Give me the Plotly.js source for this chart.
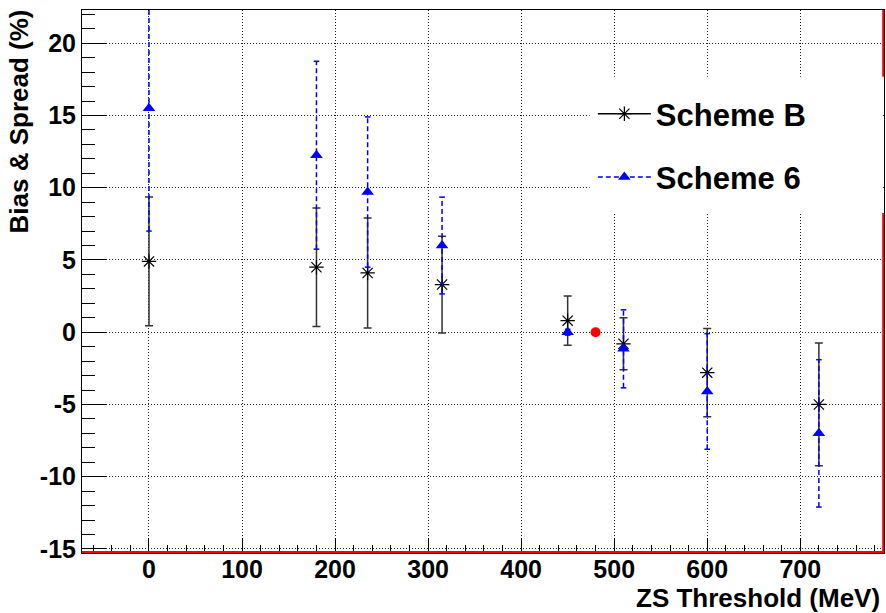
<!DOCTYPE html>
<html>
<head>
<meta charset="utf-8">
<script src="https://cdn.plot.ly/plotly-3.0.1.min.js"></script>
<style>html,body{margin:0;padding:0;background:#fff;}#chart{width:886px;height:613px;}</style>
</head>
<body>
<div id="chart"></div>
<script>
// ---- data ----
const thresholds = [0, 180, 235, 315, 450, 510, 600, 720];
const schemeB = [4.9, 4.5, 4.1, 3.3, 0.8, -0.8, -2.8, -5.0];
const schemeBErr = [4.45, 4.1, 3.8, 3.35, 1.7, 1.8, 3.05, 4.25];
const scheme6 = [15.5, 12.25, 9.7, 6.0, 0.0, -1.15, -4.1, -7.0];
const scheme6Err = [8.5, 6.5, 5.2, 3.35, 0.2, 2.7, 4.0, 5.1];
const refX = [480];
const refY = [0];
const xTickVals = [0, 100, 200, 300, 400, 500, 600, 700];
const xTickText = ['0', '100', '200', '300', '400', '500', '600', '700'];
const yTickVals = [-15, -10, -5, 0, 5, 10, 15, 20];
const yTickText = ['-15', '-10', '-5', '0', '5', '10', '15', '20'];
const seriesNames = ['Scheme B', 'Scheme 6'];

// interleave with nulls so single points carry a legend line but are not joined
function gapped(arr) { const o = []; arr.forEach(v => { o.push(v); o.push(null); }); return o; }

// dashed error segments for Scheme 6
const e6x = [], e6y = [];
thresholds.forEach((x, i) => {
  e6x.push(x, x, null);
  e6y.push(scheme6[i] - scheme6Err[i], scheme6[i] + scheme6Err[i], null);
});

const FONT = 'Liberation Sans, Arial, Helvetica, sans-serif';

const traces = [
  {
    x: gapped(thresholds), y: gapped(schemeB), name: seriesNames[0],
    type: 'scatter', mode: 'lines+markers', connectgaps: false,
    legendgroup: 'b',
    line: {color: '#000', width: 1.5},
    marker: {symbol: 'asterisk-open', size: 12, color: '#000', line: {color: '#000', width: 1.2}},
    error_y: {type: 'data', array: gapped(schemeBErr), visible: true, color: '#333', thickness: 1.5, width: 4}
  },
  {
    x: e6x, y: e6y, type: 'scatter', mode: 'lines+markers', showlegend: false,
    line: {color: '#0000ff', width: 1.5, dash: '5px,3px'},
    marker: {symbol: 'line-ew-open', size: 4, color: '#0000ff', line: {color: '#0000ff', width: 1.5}}
  },
  {
    x: gapped(thresholds), y: gapped(scheme6), name: seriesNames[1],
    type: 'scatter', mode: 'lines+markers', connectgaps: false,
    legendgroup: 's6',
    line: {color: '#0000ff', width: 1.5, dash: '5px,3px'},
    marker: {symbol: 'triangle-up', size: 11, color: '#0000ff'}
  },
  {
    x: refX, y: refY, type: 'scatter', mode: 'markers', showlegend: false,
    marker: {symbol: 'circle', size: 10, color: '#ff0000'}
  }
];

const axisFont = {family: FONT, size: 25, color: '#000', weight: 'bold'};

const layout = {
  width: 886, height: 613,
  margin: {l: 82, r: 2, t: 10, b: 60, pad: 0},
  paper_bgcolor: '#fff', plot_bgcolor: '#fff',
  showlegend: true,
  hovermode: false,
  xaxis: {
    range: [-72, 790], tickmode: 'array', tickvals: xTickVals, ticktext: xTickText,
    ticks: 'inside', ticklen: 15, tickwidth: 1, tickcolor: '#000',
    minor: {dtick: 20, tick0: 0, ticks: 'inside', ticklen: 8, tickcolor: '#000', tickwidth: 1, showgrid: false},
    showline: true, linecolor: '#000', linewidth: 1, mirror: true,
    showgrid: true, gridcolor: '#222', griddash: '1px,2px', gridwidth: 1,
    zeroline: false, tickfont: axisFont, ticklabelstandoff: -6
  },
  yaxis: {
    range: [-15.28, 22.3], tickmode: 'array', tickvals: yTickVals, ticktext: yTickText,
    ticks: 'inside', ticklen: 24, tickwidth: 1, tickcolor: '#000',
    minor: {dtick: 1, tick0: 0, ticks: 'inside', ticklen: 13, tickcolor: '#000', tickwidth: 1, showgrid: false},
    showline: true, linecolor: '#000', linewidth: 1, mirror: true,
    showgrid: true, gridcolor: '#222', griddash: '1px,2px', gridwidth: 1,
    zeroline: false, tickfont: axisFont
  },
  legend: {
    x: 0.637, xanchor: 'left', y: 0.858, yanchor: 'top',
    bgcolor: 'rgba(255,255,255,0)', borderwidth: 0,
    font: {family: FONT, size: 31, color: '#000', weight: 'bold'},
    itemwidth: 53, traceorder: 'grouped', tracegroupgap: 20
  },
  shapes: [
    {type: 'rect', xref: 'paper', yref: 'paper', x0: 0.633, x1: 0.997, y0: 0.626, y1: 0.877,
     fillcolor: '#fff', line: {width: 0}, layer: 'above'},
    {type: 'line', xref: 'paper', yref: 'paper', x0: 0, x1: 1, y0: 0.002, y1: 0.002,
     line: {color: '#ff0000', width: 2}, layer: 'above'},
    {type: 'line', xref: 'paper', yref: 'paper', x0: 0.999, x1: 0.999, y0: 0, y1: 0.626,
     line: {color: '#ff0000', width: 2}, layer: 'above'},
    {type: 'line', xref: 'paper', yref: 'paper', x0: 0.999, x1: 0.999, y0: 0.877, y1: 1,
     line: {color: '#ff0000', width: 2}, layer: 'above'}
  ],
  annotations: [
    {text: 'ZS Threshold (MeV)', xref: 'paper', yref: 'paper', x: 0.998, xanchor: 'right',
     y: -0.083, yanchor: 'middle', showarrow: false,
     font: {family: FONT, size: 26, color: '#000', weight: 'bold'}},
    {text: 'Bias &amp; Spread (%)', xref: 'paper', yref: 'paper', x: -0.079, xanchor: 'center',
     y: 1.004, yanchor: 'top', textangle: -90, showarrow: false,
     font: {family: FONT, size: 26, color: '#000', weight: 'bold'}}
  ]
};

Plotly.newPlot('chart', traces, layout, {staticPlot: true, displayModeBar: false});
</script>
</body>
</html>
